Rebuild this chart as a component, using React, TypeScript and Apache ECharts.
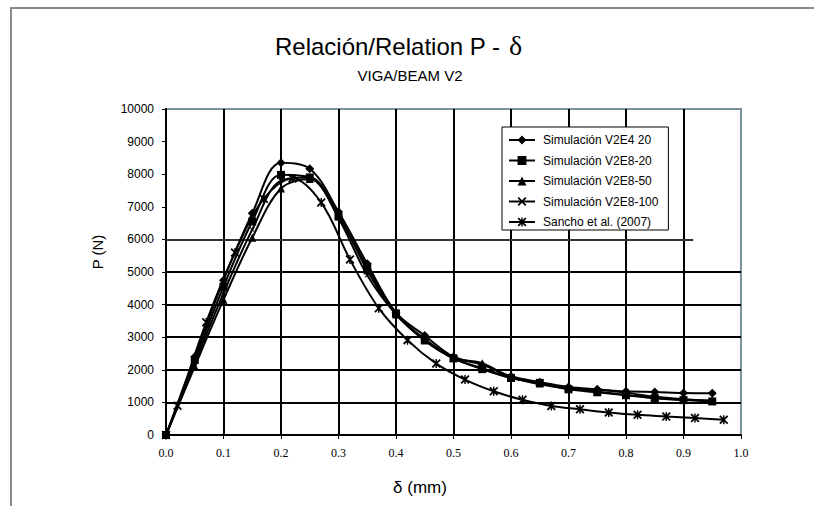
import React, { useEffect, useRef } from "react";
import * as echarts from "echarts";

// ---- data ----
const DELTA_SIM = [0, 0.05, 0.1, 0.15, 0.2, 0.25, 0.3, 0.35, 0.4, 0.45, 0.5, 0.55, 0.6, 0.65, 0.7, 0.75, 0.8, 0.85, 0.9, 0.95];
const V2E4_20 = [0, 2400, 4750, 6800, 8350, 8170, 6850, 5250, 3750, 3050, 2400, 2150, 1800, 1620, 1470, 1400, 1340, 1320, 1290, 1280];
const V2E8_20 = [0, 2300, 4550, 6550, 7980, 7900, 6700, 5150, 3730, 2900, 2350, 2020, 1750, 1600, 1400, 1310, 1220, 1130, 1070, 1030];
const V2E8_50 = [0, 2100, 4150, 6050, 7560, 7850, 6750, 5050, 3700, 2950, 2370, 2200, 1770, 1580, 1440, 1380, 1300, 1170, 1100, 1060];
const V2E8_100 = [0, 2200, 4350, 6300, 7800, 7900, 6650, 4900, 3700, 2900, 2350, 2050, 1760, 1560, 1420, 1330, 1230, 1140, 1080, 1040];
const DELTA_SANCHO = [0, 0.02, 0.07, 0.12, 0.17, 0.22, 0.27, 0.32, 0.37, 0.42, 0.47, 0.52, 0.57, 0.62, 0.67, 0.72, 0.77, 0.82, 0.87, 0.92, 0.97];
const SANCHO = [0, 900, 3460, 5600, 7250, 7870, 7130, 5380, 3890, 2910, 2190, 1700, 1340, 1080, 890, 790, 690, 620, 570, 520, 470];

const SERIES_NAMES = [
  "Simulación V2E4 20",
  "Simulación V2E8-20",
  "Simulación V2E8-50",
  "Simulación V2E8-100",
  "Sancho et al. (2007)",
];
const Y_GRID_FULL = [1000, 2000, 3000, 4000, 5000];
const Y_GRID_SHORT = 6000;
const Y_GRID_SHORT_END = 0.917;

const TITLE = "Relación/Relation P -";
const TITLE_SYMBOL = "δ";
const SUBTITLE = "VIGA/BEAM V2";
const Y_NAME = "P (N)";
const X_NAME = "δ (mm)";

const ASTERISK =
  "path://M0,1.4L1.4,0L10,8.6L8.6,10Z M8.6,0L10,1.4L1.4,10L0,8.6Z M4.2,0L5.8,0L5.8,10L4.2,10Z";
const CROSS = "path://M0,1.4L1.4,0L10,8.6L8.6,10Z M8.6,0L10,1.4L1.4,10L0,8.6Z";

const SANS = "Arial, 'Liberation Sans', sans-serif";
const SERIF = "'Times New Roman', 'Liberation Serif', serif";

function mkSeries(name: string, xs: number[], ys: number[], symbol: string, size: number) {
  return {
    name,
    type: "line",
    data: xs.map((x, i) => [x, ys[i]]),
    smooth: 0.35,
    symbol,
    symbolSize: size,
    showSymbol: true,
    showAllSymbol: true,
    lineStyle: { color: "#000", width: 2 },
    itemStyle: { color: "#000", borderWidth: 0 },
    z: 3,
    silent: true,
  };
}

export default function App() {
  const ref = useRef<HTMLDivElement>(null);
  useEffect(() => {
    if (!ref.current) return;
    const chart = echarts.init(ref.current, null, { renderer: "svg" });
    const gridLines: any[] = Y_GRID_FULL.map((v) => [
      { coord: [0, v] },
      { coord: [1, v] },
    ]);
    gridLines.push([
      { coord: [0, Y_GRID_SHORT], lineStyle: { color: "#333", width: 2 } },
      { coord: [Y_GRID_SHORT_END, Y_GRID_SHORT] },
    ]);
    chart.setOption({
      animation: false,
      backgroundColor: "#fff",
      textStyle: { fontFamily: SANS },
      grid: {
        left: 166,
        right: 73,
        top: 109,
        bottom: 71,
        show: true,
        borderColor: "#7a929c",
        borderWidth: 2,
        backgroundColor: "transparent",
      },
      legend: {
        data: SERIES_NAMES,
        orient: "vertical",
        left: 502,
        top: 127,
        itemWidth: 26,
        itemHeight: 11,
        itemGap: 8.5,
        padding: [7, 10, 2, 6],
        backgroundColor: "#fff",
        borderColor: "#000",
        borderWidth: 1,
        borderRadius: 0,
        textStyle: { fontFamily: SANS, fontSize: 12, color: "#000", padding: [0, 0, 0, 3] },
        selectedMode: false,
      },
      xAxis: {
        type: "value",
        min: 0,
        max: 1,
        interval: 0.1,
        axisLine: { show: true, lineStyle: { color: "#000", width: 2 } },
        axisTick: { show: true, length: 4, lineStyle: { color: "#000", width: 1 } },
        axisLabel: {
          margin: 12,
          fontFamily: SERIF,
          fontSize: 12,
          color: "#000",
          formatter: (v: number) => v.toFixed(1),
        },
        splitLine: {
          show: true,
          showMinLine: false,
          showMaxLine: false,
          lineStyle: { color: "#000", width: 2 },
        },
      },
      yAxis: {
        type: "value",
        min: 0,
        max: 10000,
        interval: 1000,
        axisLine: { show: true, lineStyle: { color: "#000", width: 2 } },
        axisTick: { show: true, length: 4, lineStyle: { color: "#000", width: 1 } },
        axisLabel: {
          margin: 12,
          fontFamily: SANS,
          fontSize: 12,
          color: "#000",
          formatter: (v: number) => String(Math.round(v)),
        },
        splitLine: { show: false },
      },
      series: [
        {
          name: "_grid",
          type: "line",
          data: [[0, 0]],
          symbol: "none",
          lineStyle: { opacity: 0 },
          silent: true,
          z: 1,
          markLine: {
            silent: true,
            z: 1,
            symbol: ["none", "none"],
            label: { show: false },
            lineStyle: { color: "#000", width: 2, type: "solid" },
            emphasis: { disabled: true },
            data: gridLines,
          },
        },
        mkSeries(SERIES_NAMES[0], DELTA_SIM, V2E4_20, "diamond", 9),
        mkSeries(SERIES_NAMES[1], DELTA_SIM, V2E8_20, "rect", 8),
        mkSeries(SERIES_NAMES[2], DELTA_SIM, V2E8_50, "triangle", 8),
        mkSeries(SERIES_NAMES[3], DELTA_SIM, V2E8_100, CROSS, 5),
        mkSeries(SERIES_NAMES[4], DELTA_SANCHO, SANCHO, ASTERISK, 9),
      ],
      graphic: [
        {
          type: "rect",
          shape: { x: 11, y: 8, width: 900, height: 600 },
          style: { fill: "none", stroke: "#8a8a8a", lineWidth: 2 },
          silent: true,
          z: -1,
        },
        {
          type: "text",
          x: 500,
          y: 46,
          style: { text: TITLE, font: `24px ${SANS}`, fill: "#000", textAlign: "right", textVerticalAlign: "middle" },
        },
        {
          type: "text",
          x: 509,
          y: 45.5,
          style: { text: TITLE_SYMBOL, font: `28px ${SERIF}`, fill: "#000", textAlign: "left", textVerticalAlign: "middle" },
        },
        {
          type: "text",
          x: 410,
          y: 75,
          style: { text: SUBTITLE, font: `15px ${SANS}`, fill: "#000", textAlign: "center", textVerticalAlign: "middle" },
        },
        {
          type: "text",
          x: 97,
          y: 252,
          rotation: Math.PI / 2,
          style: { text: Y_NAME, font: `15px ${SANS}`, fill: "#000", textAlign: "center", textVerticalAlign: "middle" },
        },
        {
          type: "text",
          x: 420,
          y: 487,
          style: { text: X_NAME, font: `17px ${SANS}`, fill: "#000", textAlign: "center", textVerticalAlign: "middle" },
        },
      ],
    });
    return () => chart.dispose();
  }, []);
  return (
    <div
      ref={ref}
      style={{ position: "absolute", left: 0, top: 0, width: 814, height: 506 }}
    />
  );
}
